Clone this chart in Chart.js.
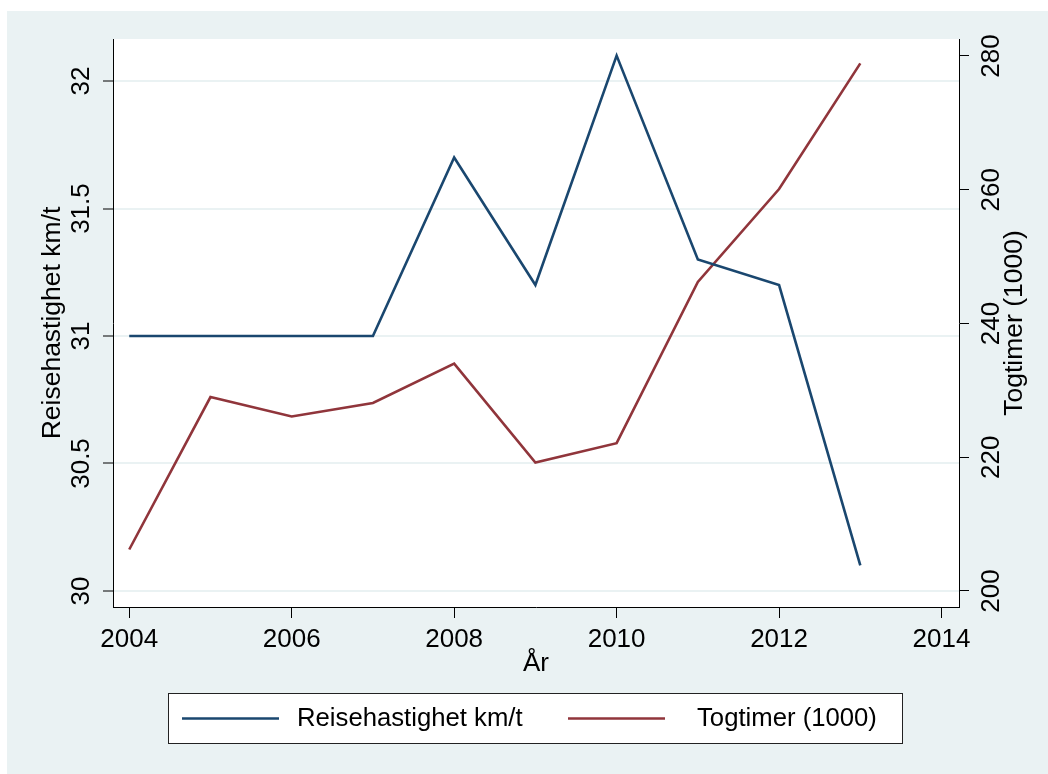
<!DOCTYPE html>
<html>
<head>
<meta charset="utf-8">
<script src="https://cdn.jsdelivr.net/npm/chart.js@4/dist/chart.umd.min.js"></script>
<style>
html,body{margin:0;padding:0;background:#fff;}
canvas{display:block;}
</style>
</head>
<body>
<canvas id="c" width="1048" height="774"></canvas>
<script>
// ---- data ----
const years = [2004, 2005, 2006, 2007, 2008, 2009, 2010, 2011, 2012, 2013];
const speed = [31.0, 31.0, 31.0, 31.0, 31.7, 31.2, 32.1, 31.3, 31.2, 30.1];
const trainHours = [206.2, 229.0, 226.1, 228.1, 234.0, 219.2, 222.1, 246.2, 260.1, 278.9];
const xTicks = [2004, 2006, 2008, 2010, 2012, 2014];
const leftTicks = [30, 30.5, 31, 31.5, 32];
const rightTicks = [200, 220, 240, 260, 280];
const seriesLabels = ['Reisehastighet km/t', 'Togtimer (1000)'];
const xTitle = 'År';
const leftTitle = 'Reisehastighet km/t';
const rightTitle = 'Togtimer (1000)';

const FONT = '"Liberation Sans", Arial, Helvetica, sans-serif';
const BG = '#EAF2F3';
const BLUE = '#1A476F';
const RED = '#90353B';
Chart.defaults.font.family = FONT;
Chart.defaults.color = '#000';

const stataPlugin = {
  id: 'stata',
  beforeDraw(chart) {
    const ctx = chart.ctx, a = chart.chartArea;
    ctx.save();
    ctx.fillStyle = '#fff';
    ctx.fillRect(0, 0, chart.width, chart.height);
    ctx.fillStyle = BG;
    ctx.fillRect(7, 11, chart.width - 7, chart.height - 11);
    ctx.fillStyle = '#fff';
    ctx.fillRect(a.left, a.top, a.right - a.left, a.bottom - a.top);
    ctx.restore();
  },
  afterDraw(chart) {
    const ctx = chart.ctx;
    const r = chart.scales.y2;
    // right axis title (reads bottom-to-top, like the left one)
    ctx.save();
    ctx.translate(1015, (r.top + r.bottom) / 2);
    ctx.rotate(-Math.PI / 2);
    ctx.font = '26.5px ' + FONT;
    ctx.fillStyle = '#000';
    ctx.textAlign = 'center';
    ctx.textBaseline = 'middle';
    ctx.fillText(rightTitle, 0, 0);
    ctx.restore();
    // legend box
    ctx.save();
    ctx.fillStyle = '#fff';
    ctx.fillRect(168, 693, 734, 50);
    ctx.strokeStyle = '#222';
    ctx.lineWidth = 1;
    ctx.strokeRect(168.5, 693.5, 734, 50);
    const lineX = [182, 568];
    const textX = [297, 697];
    ctx.font = '25.7px ' + FONT;
    ctx.textBaseline = 'middle';
    ctx.textAlign = 'left';
    chart.data.datasets.forEach((ds, i) => {
      ctx.strokeStyle = ds.borderColor;
      ctx.lineWidth = ds.borderWidth;
      ctx.beginPath();
      ctx.moveTo(lineX[i], 718.5);
      ctx.lineTo(lineX[i] + 97, 718.5);
      ctx.stroke();
      ctx.fillStyle = '#000';
      ctx.fillText(ds.label, textX[i], 719);
    });
    ctx.restore();
  }
};

new Chart(document.getElementById('c'), {
  type: 'line',
  data: {
    datasets: [
      {
        label: seriesLabels[0],
        data: years.map((x, i) => ({ x: x, y: speed[i] })),
        yAxisID: 'y',
        borderColor: BLUE,
        backgroundColor: BLUE,
        borderWidth: 2.6,
        pointRadius: 0,
        tension: 0,
        fill: false
      },
      {
        label: seriesLabels[1],
        data: years.map((x, i) => ({ x: x, y: trainHours[i] })),
        yAxisID: 'y2',
        borderColor: RED,
        backgroundColor: RED,
        borderWidth: 2.6,
        pointRadius: 0,
        tension: 0,
        fill: false
      }
    ]
  },
  options: {
    responsive: false,
    animation: false,
    devicePixelRatio: 1,
    layout: { padding: { top: 39, left: 0, right: 0, bottom: 0 } },
    plugins: {
      legend: { display: false },
      tooltip: { enabled: false }
    },
    scales: {
      x: {
        type: 'linear',
        position: 'bottom',
        min: 2003.8,
        max: 2014.215,
        afterBuildTicks: s => { s.ticks = xTicks.map(v => ({ value: v })); },
        afterFit: s => { s.height = 167; },
        ticks: {
          callback: v => String(v),
          font: { size: 26 },
          color: '#000',
          padding: 6,
          maxRotation: 0,
          minRotation: 0,
          autoSkip: false
        },
        grid: {
          display: true,
          drawOnChartArea: false,
          drawTicks: true,
          tickLength: 11,
          tickColor: '#000',
          tickWidth: 1
        },
        border: { display: true, color: '#000', width: 1 },
        title: {
          display: true,
          text: xTitle,
          font: { size: 26 },
          color: '#000',
          padding: { top: 0, bottom: 94.7 }
        }
      },
      y: {
        type: 'linear',
        position: 'left',
        min: 29.937,
        max: 32.165,
        afterBuildTicks: s => { s.ticks = leftTicks.map(v => ({ value: v })); },
        afterFit: s => { s.width = 113; },
        ticks: {
          callback: v => String(v),
          font: { size: 26 },
          color: '#000',
          minRotation: 90,
          maxRotation: 90,
          crossAlign: 'center',
          padding: -4.3,
          autoSkip: false
        },
        grid: {
          display: true,
          drawOnChartArea: true,
          color: BG,
          lineWidth: 2,
          drawTicks: true,
          tickLength: 10,
          tickColor: '#000',
          tickWidth: 1
        },
        border: { display: true, color: '#000', width: 1 },
        title: {
          display: true,
          text: leftTitle,
          font: { size: 26.5 },
          color: '#000',
          padding: { top: 36.4, bottom: 0 }
        }
      },
      y2: {
        type: 'linear',
        position: 'right',
        min: 197.6,
        max: 282.54,
        afterBuildTicks: s => { s.ticks = rightTicks.map(v => ({ value: v })); },
        afterFit: s => { s.width = 89; },
        ticks: {
          callback: v => String(v),
          font: { size: 26 },
          color: '#000',
          minRotation: 90,
          maxRotation: 90,
          crossAlign: 'center',
          padding: 1,
          autoSkip: false
        },
        grid: {
          display: true,
          drawOnChartArea: false,
          drawTicks: true,
          tickLength: 10,
          tickColor: '#000',
          tickWidth: 1
        },
        border: { display: true, color: '#000', width: 1 },
        title: { display: false }
      }
    }
  },
  plugins: [stataPlugin]
});
</script>
</body>
</html>
